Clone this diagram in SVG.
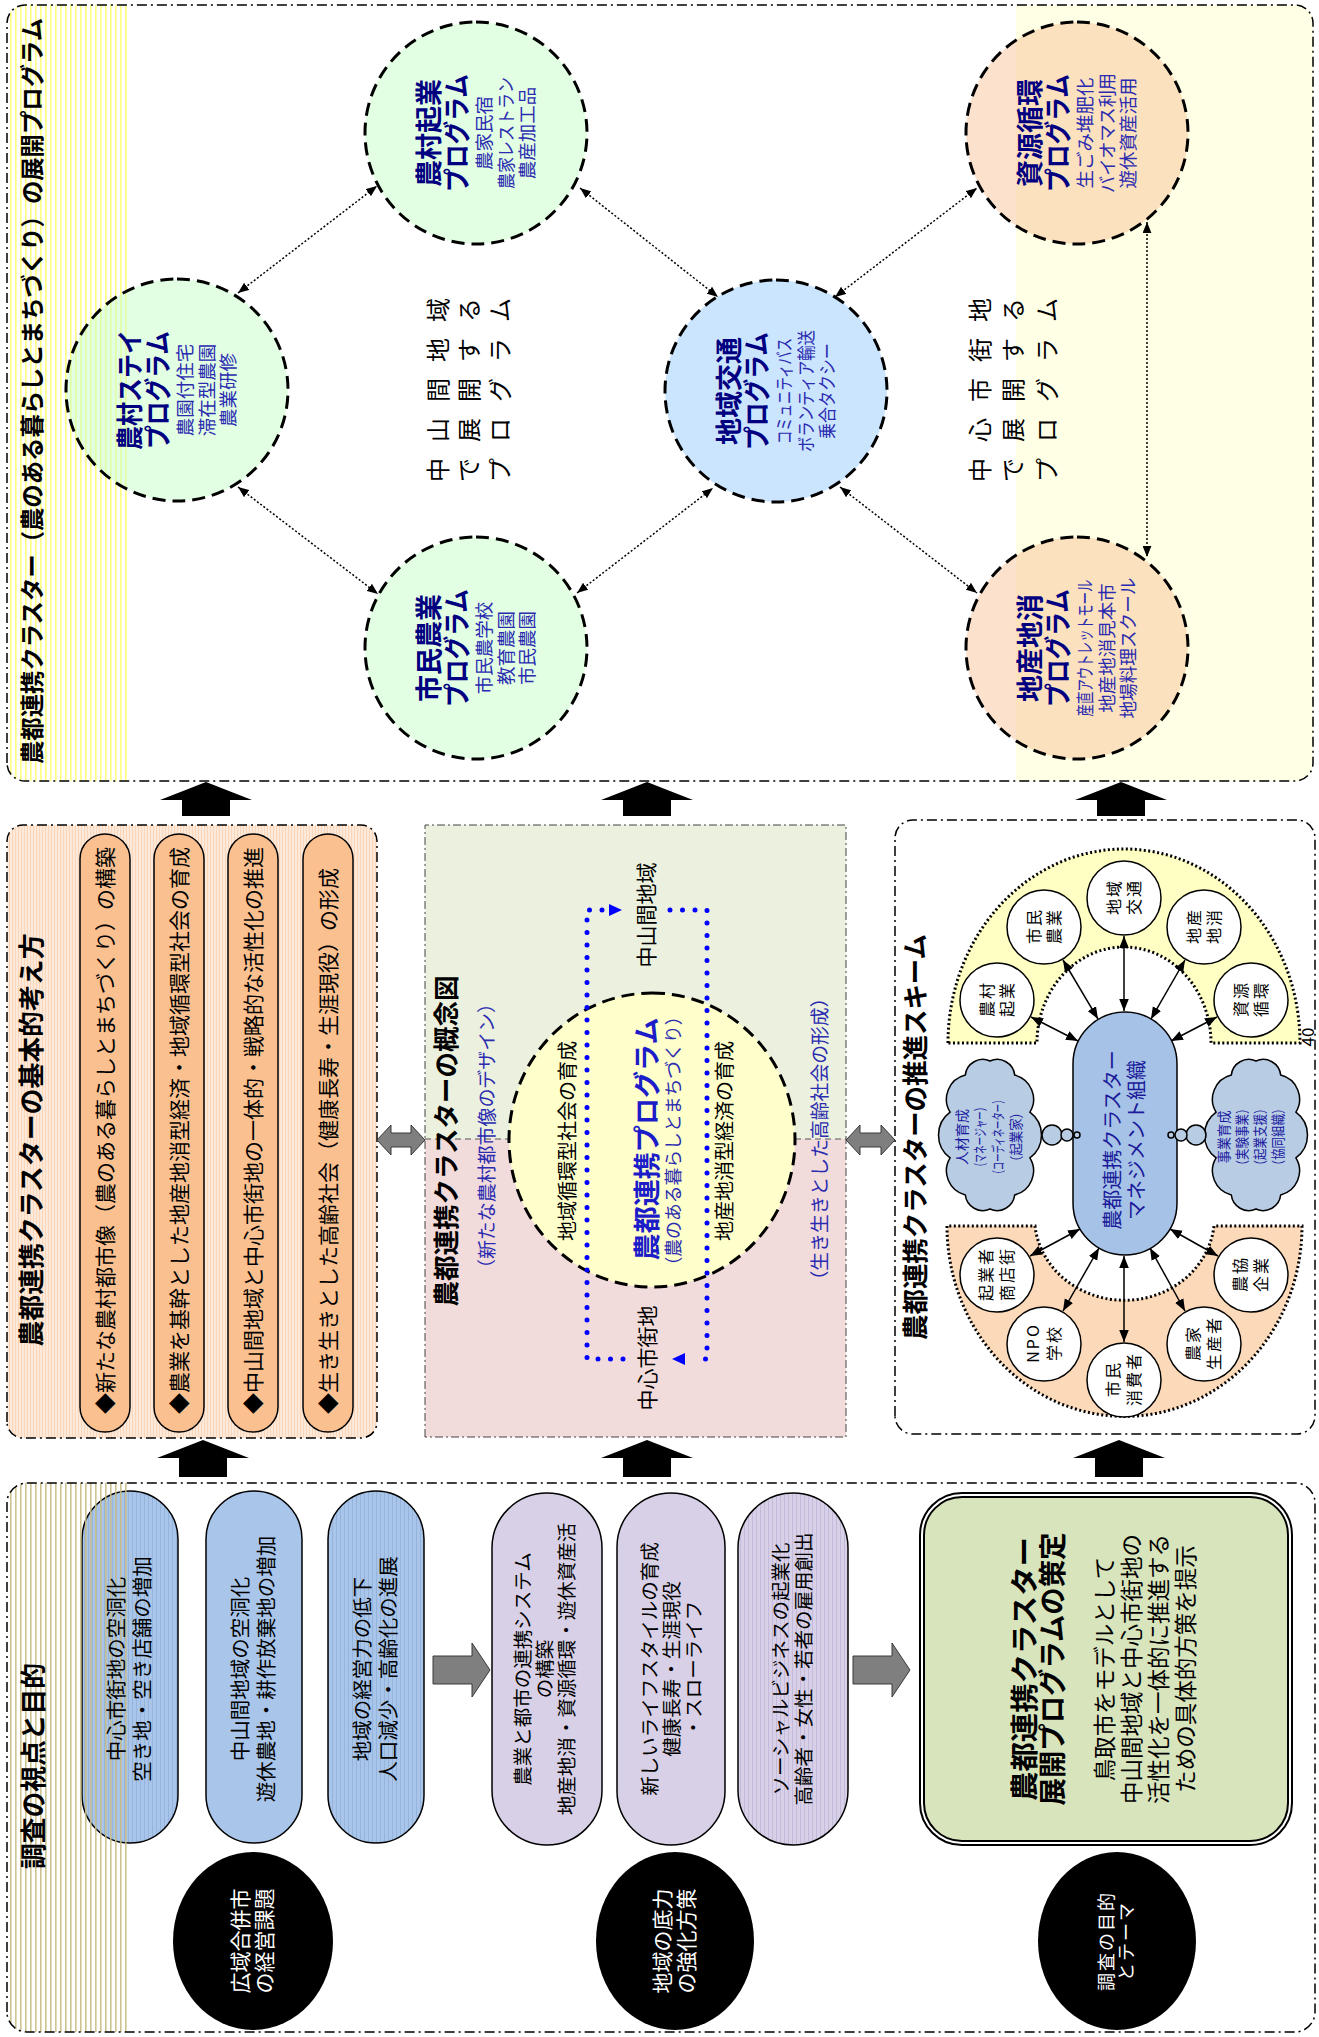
<svg xmlns="http://www.w3.org/2000/svg" width="1319" height="2037" viewBox="0 0 1319 2037">
<defs>
<style>
text{font-family:"Noto Sans CJK JP","Noto Sans CJK SC",sans-serif;fill:#000}
.m{text-anchor:middle}
.b{font-weight:bold}
.frame{fill:none;stroke:#000;stroke-width:1.5;stroke-dasharray:10 4 2 4}
.prog{stroke:#000;stroke-width:3;stroke-dasharray:13 7}
.green{fill:#c8ffc8;fill-opacity:.5}
.blue{fill:#99ccff;fill-opacity:.5}
.peach{fill:#f8b888;fill-opacity:.42}
.pt{font-size:27px;font-weight:bold;fill:#000080;text-anchor:middle}
.ps{font-size:18.5px;fill:#2b2bb0;text-anchor:middle}
.rowt{font-size:24px;text-anchor:middle}
.link{fill:none;stroke:#000;stroke-width:1.5;stroke-dasharray:2 2;marker-start:url(#ah);marker-end:url(#ah)}
.blk{fill:#000}
.gry{fill:#7f7f7f;stroke:#3a3a3a;stroke-width:1}
.pillo{fill:#fac090;stroke:#000;stroke-width:1.5}
.pt21{font-size:21px}
.sc{fill:#fff;stroke:#000;stroke-width:1.5}
.st{font-size:16px;text-anchor:middle;letter-spacing:2px}
.arr{stroke:#000;stroke-width:1.5;marker-start:url(#ah2);marker-end:url(#ah2)}
.ct{font-size:14px;fill:#1a1aa0;text-anchor:middle}
.dot{fill:none;stroke:#0000ff;stroke-width:5;stroke-dasharray:0 12.5;stroke-linecap:round}
.bt{font-size:19px;fill:#2b2bb0;text-anchor:middle}
.pe{font-size:20.5px;text-anchor:middle}
.pl{font-size:19.5px;text-anchor:middle}
.wt{font-size:21px;fill:#fff;text-anchor:middle}
</style>
<pattern id="pYel" width="10" height="5" patternUnits="userSpaceOnUse"><rect width="10" height="1.6" fill="#ffff80"/></pattern>
<pattern id="pTan" width="10" height="5" patternUnits="userSpaceOnUse"><rect width="10" height="1.6" fill="#c9bd86"/></pattern>
<pattern id="pPeach" width="10" height="3" patternUnits="userSpaceOnUse"><rect width="10" height="3" fill="#fde9d9"/><rect width="10" height="1" fill="#fbd6b9"/></pattern>
<pattern id="pBlue" width="10" height="4" patternUnits="userSpaceOnUse"><rect width="10" height="4" fill="#a9c5e9"/><rect width="10" height="1" fill="#94b4dc"/></pattern>
<pattern id="pLav" width="10" height="4" patternUnits="userSpaceOnUse"><rect width="10" height="4" fill="#d8d0e6"/><rect width="10" height="1" fill="#c4badb"/></pattern>
<marker id="ah" viewBox="0 0 10 8" refX="10" refY="4" markerWidth="11" markerHeight="9" markerUnits="userSpaceOnUse" orient="auto-start-reverse"><path d="M0,0 L10,4 L0,8 Z" fill="#000"/></marker>
<marker id="ah2" viewBox="0 0 10 8" refX="10" refY="4" markerWidth="12" markerHeight="10" markerUnits="userSpaceOnUse" orient="auto-start-reverse"><path d="M0,0 L10,4 L0,8 Z" fill="#000"/></marker>
<clipPath id="clipA"><rect x="1256" y="7" width="776" height="1306" rx="18"/></clipPath>
<clipPath id="clipE"><rect x="5" y="7" width="549" height="1308" rx="20"/></clipPath>
<path id="cloud" fill="#b8cce4" stroke="#000" stroke-width="1.5" d="M74 0 A17.6 17.6 0 0 1 59.9 24.7 A24.8 24.8 0 0 1 22.9 39.9 A28.4 28.4 0 0 1 -22.9 39.9 A24.8 24.8 0 0 1 -59.9 24.7 A17.6 17.6 0 0 1 -74 0 A17.6 17.6 0 0 1 -59.9 -24.7 A24.8 24.8 0 0 1 -22.9 -39.9 A28.4 28.4 0 0 1 22.9 -39.9 A24.8 24.8 0 0 1 59.9 -24.7 A17.6 17.6 0 0 1 74 0 Z"/>
</defs>

<rect width="1319" height="2037" fill="#fff"/>

<!-- whole sheet is laid out landscape and turned a quarter turn -->
<g transform="translate(0 2037) rotate(-90)">

<!-- ===== Development programmes ===== -->
<g id="panel-programs">
  <g clip-path="url(#clipA)">
    <rect x="1256" y="7" width="776" height="1306" fill="#fff"/>
    <rect x="1256" y="7" width="776" height="123" fill="url(#pYel)"/>
    <rect x="1256" y="1016" width="776" height="297" fill="#ffffe6"/>
  </g>
  <rect class="frame" x="1256" y="7" width="776" height="1306" rx="18"/>
  <text class="b" x="1273" y="41" font-size="24" textLength="746" lengthAdjust="spacingAndGlyphs">農都連携クラスター（農のある暮らしとまちづくり）の展開プログラム</text>

  <g id="area-rural">
    <text class="rowt" x="1567 1607 1647 1687 1727" y="447">中山間地域</text>
    <text class="rowt" x="1567 1607 1647 1687 1727" y="478">で展開する</text>
    <text class="rowt" x="1567 1607 1647 1687 1727" y="509">プログラム</text>
  </g>
  <g id="area-center">
    <text class="rowt" x="1567 1607 1647 1687 1727" y="989">中心市街地</text>
    <text class="rowt" x="1567 1607 1647 1687 1727" y="1022">で展開する</text>
    <text class="rowt" x="1567 1607 1647 1687 1727" y="1056">プログラム</text>
  </g>
</g>

<g id="program-links">
  <path class="link" d="M1744 238 L1851 377"/>
  <path class="link" d="M1550 238 L1443 378"/>
  <path class="link" d="M1849 580 L1740 718"/>
  <path class="link" d="M1444 577 L1549 713"/>
  <path class="link" d="M1740 835 L1849 977"/>
  <path class="link" d="M1550 840 L1444 977"/>
  <path class="link" d="M1815 1147 L1480 1147"/>
</g>

<g id="prog-stay">
  <circle class="prog green" cx="1647" cy="177" r="111"/>
  <text class="pt" x="1647" y="139.5" textLength="120" lengthAdjust="spacingAndGlyphs">農村ステイ</text>
  <text class="pt" x="1647" y="167.5" textLength="118" lengthAdjust="spacingAndGlyphs">プログラム</text>
  <text class="ps" x="1647" y="191.5">農園付住宅</text>
  <text class="ps" x="1647" y="213.5">滞在型農園</text>
  <text class="ps" x="1647" y="234.5">農業研修</text>
</g>
<g id="prog-venture">
  <circle class="prog green" cx="1904" cy="476" r="111"/>
  <text class="pt" x="1904" y="438.5">農村起業</text>
  <text class="pt" x="1904" y="466.5" textLength="118" lengthAdjust="spacingAndGlyphs">プログラム</text>
  <text class="ps" x="1904" y="490.5">農家民宿</text>
  <text class="ps" x="1904" y="512.5" textLength="112" lengthAdjust="spacingAndGlyphs">農家レストラン</text>
  <text class="ps" x="1904" y="533.5">農産加工品</text>
</g>
<g id="prog-citizen">
  <circle class="prog green" cx="1389" cy="476" r="111"/>
  <text class="pt" x="1389" y="438.5">市民農業</text>
  <text class="pt" x="1389" y="466.5" textLength="118" lengthAdjust="spacingAndGlyphs">プログラム</text>
  <text class="ps" x="1389" y="490.5">市民農学校</text>
  <text class="ps" x="1389" y="512.5">教育農園</text>
  <text class="ps" x="1389" y="533.5">市民農園</text>
</g>
<g id="prog-transport">
  <circle class="prog blue" cx="1646" cy="776" r="111"/>
  <text class="pt" x="1646" y="738.5">地域交通</text>
  <text class="pt" x="1646" y="766.5" textLength="118" lengthAdjust="spacingAndGlyphs">プログラム</text>
  <text class="ps" x="1646" y="790.5" textLength="106" lengthAdjust="spacingAndGlyphs">コミュニティバス</text>
  <text class="ps" x="1646" y="812.5" textLength="122" lengthAdjust="spacingAndGlyphs">ボランティア輸送</text>
  <text class="ps" x="1646" y="833.5" textLength="96" lengthAdjust="spacingAndGlyphs">乗合タクシー</text>
</g>
<g id="prog-resource">
  <circle class="prog peach" cx="1904" cy="1077" r="111"/>
  <text class="pt" x="1904" y="1039.5">資源循環</text>
  <text class="pt" x="1904" y="1067.5" textLength="118" lengthAdjust="spacingAndGlyphs">プログラム</text>
  <text class="ps" x="1904" y="1091.5">生ごみ堆肥化</text>
  <text class="ps" x="1904" y="1113.5" textLength="120" lengthAdjust="spacingAndGlyphs">バイオマス利用</text>
  <text class="ps" x="1904" y="1134.5">遊休資産活用</text>
</g>
<g id="prog-local">
  <circle class="prog peach" cx="1389" cy="1077" r="111"/>
  <text class="pt" x="1389" y="1039.5">地産地消</text>
  <text class="pt" x="1389" y="1067.5" textLength="118" lengthAdjust="spacingAndGlyphs">プログラム</text>
  <text class="ps" x="1389" y="1091.5" textLength="137" lengthAdjust="spacingAndGlyphs">産直アウトレットモール</text>
  <text class="ps" x="1389" y="1113.5">地産地消見本市</text>
  <text class="ps" x="1389" y="1134.5" textLength="141" lengthAdjust="spacingAndGlyphs">地場料理スクール</text>
</g>

<!-- ===== Basic concept ===== -->
<g id="panel-concept">
  <rect x="599" y="7" width="613" height="370" rx="16" fill="url(#pPeach)"/>
  <rect class="frame" x="599" y="7" width="613" height="370" rx="16"/>
  <text class="b m" x="897" y="41" font-size="26" textLength="413" lengthAdjust="spacingAndGlyphs">農都連携クラスターの基本的考え方</text>
  <rect class="pillo" x="605" y="80" width="598" height="50" rx="25"/>
  <rect class="pillo" x="605" y="154" width="598" height="50" rx="25"/>
  <rect class="pillo" x="605" y="228" width="598" height="50" rx="25"/>
  <rect class="pillo" x="605" y="303" width="598" height="50" rx="25"/>
  <text class="pt21" x="623" y="112.5">◆新たな農村都市像（農のある暮らしとまちづくり）の構築</text>
  <text class="pt21" x="623" y="186.5">◆農業を基幹とした地産地消型経済・地域循環型社会の育成</text>
  <text class="pt21" x="623" y="260.5">◆中山間地域と中心市街地の一体的・戦略的な活性化の推進</text>
  <text class="pt21" x="623" y="335.5">◆生き生きとした高齢社会（健康長寿・生涯現役）の形成</text>
</g>

<!-- ===== Concept map ===== -->
<g id="panel-map">
  <rect x="898" y="425" width="314" height="421" fill="#ebf1de"/>
  <rect x="600" y="425" width="298" height="421" fill="#f2dcdb"/>
  <line x1="898" y1="425" x2="898" y2="846" stroke="#555" stroke-width="1" stroke-dasharray="6 4"/>
  <rect x="600" y="425" width="612" height="421" fill="none" stroke="#444" stroke-width="1" stroke-dasharray="8 3 2 3"/>
  <text class="b m" x="896" y="456" font-size="26" textLength="331" lengthAdjust="spacingAndGlyphs">農都連携クラスターの概念図</text>
  <text class="bt" x="901" y="494" textLength="284" lengthAdjust="spacingAndGlyphs">（新たな農村都市像のデザイン）</text>
  <text class="bt" x="898" y="827" textLength="301" lengthAdjust="spacingAndGlyphs">（生き生きとした高齢社会の形成）</text>
  <ellipse cx="897" cy="652" rx="147" ry="143" fill="#ffffcc" stroke="#000" stroke-width="3" stroke-dasharray="13 7"/>
  <text class="m" x="896" y="575" font-size="20">地域循環型社会の育成</text>
  <text class="m" x="896" y="732" font-size="20">地産地消型経済の育成</text>
  <text class="b m" x="898" y="657" font-size="27" style="fill:#1c1cc8" textLength="243" lengthAdjust="spacingAndGlyphs">農都連携プログラム</text>
  <text class="m" x="896" y="680" font-size="18" style="fill:#2b2bb0" textLength="267" lengthAdjust="spacingAndGlyphs">（農のある暮らしとまちづくり）</text>
  <text class="m" x="1122" y="654" font-size="21">中山間地域</text>
  <text class="m" x="679" y="655" font-size="21">中心市街地</text>
  <g id="map-loop">
    <path class="dot" d="M678 623 L678 587 L1127 587 L1127 606"/>
    <path class="dot" d="M1127 670 L1127 707 L678 707 L678 695"/>
    <polygon points="1127,622 1121,609 1133,609" fill="#0000ff"/>
    <polygon points="678,672 672,685 684,685" fill="#0000ff"/>
  </g>
</g>

<!-- ===== Promotion scheme ===== -->
<g id="panel-scheme">
  <rect x="603" y="895" width="614" height="420" rx="18" fill="#fff"/>
  <rect class="frame" x="603" y="895" width="614" height="420" rx="18"/>
  <text class="b m" x="900" y="925" font-size="26" textLength="406" lengthAdjust="spacingAndGlyphs">農都連携クラスターの推進スキーム</text>
  <path d="M994 948 A194 176 0 0 1 994 1300 L994 1211 A96 87 0 0 0 994 1037 Z" fill="#ffffc4" stroke="#000" stroke-width="3" stroke-dasharray="2 2.5"/>
  <path d="M811 947 A190 177 0 0 0 811 1302 L811 1214 A83 90 0 0 1 811 1035 Z" fill="#fcd9b8" stroke="#000" stroke-width="3" stroke-dasharray="2 2.5"/>
  <use href="#cloud" x="902" y="990"/>
  <use href="#cloud" x="902" y="1256"/>
  <g id="scheme-links">
    <line class="arr" x1="1020" y1="1031" x2="996" y2="1078"/>
    <line class="arr" x1="1077" y1="1063" x2="1018" y2="1098"/>
    <line class="arr" x1="1101" y1="1124" x2="1026" y2="1124"/>
    <line class="arr" x1="1077" y1="1185" x2="1018" y2="1151"/>
    <line class="arr" x1="1020" y1="1217" x2="996" y2="1171"/>
    <line class="arr" x1="781" y1="1030" x2="808" y2="1080"/>
    <line class="arr" x1="726" y1="1063" x2="789" y2="1099"/>
    <line class="arr" x1="695" y1="1124" x2="781" y2="1124"/>
    <line class="arr" x1="726" y1="1185" x2="789" y2="1150"/>
    <line class="arr" x1="781" y1="1218" x2="808" y2="1170"/>
  </g>
  <g id="scheme-core">
    <rect x="782" y="1073" width="243" height="104" rx="52" fill="#a6c2e6" stroke="#000" stroke-width="1.5"/>
    <text class="m" x="897" y="1120" font-size="20" style="fill:#1a1a9a">農都連携クラスター</text>
    <text class="m" x="897" y="1144" font-size="20" style="fill:#1a1a9a">マネジメント組織</text>
  </g>
  <g id="scheme-bubbles" fill="#b8cce4" stroke="#000" stroke-width="1.5">
    <circle cx="902" cy="1052" r="10"/>
    <circle cx="902" cy="1067" r="6"/>
    <circle cx="902" cy="1077" r="3"/>
    <circle cx="902" cy="1196" r="10"/>
    <circle cx="902" cy="1181" r="6"/>
    <circle cx="902" cy="1171" r="3"/>
  </g>
  <g id="cloud-people">
    <text class="ct" x="900" y="967" textLength="56" lengthAdjust="spacingAndGlyphs">人材育成</text>
    <text class="ct" x="900" y="985" textLength="69" lengthAdjust="spacingAndGlyphs">（マネージャー）</text>
    <text class="ct" x="900" y="1003" textLength="83" lengthAdjust="spacingAndGlyphs">（コーディネーター）</text>
    <text class="ct" x="900" y="1021" textLength="62" lengthAdjust="spacingAndGlyphs">（起業家）</text>
  </g>
  <g id="cloud-business">
    <text class="ct" x="900" y="1229" textLength="53" lengthAdjust="spacingAndGlyphs">事業育成</text>
    <text class="ct" x="900" y="1247" textLength="69" lengthAdjust="spacingAndGlyphs">（実験事業）</text>
    <text class="ct" x="900" y="1265" textLength="69" lengthAdjust="spacingAndGlyphs">（起業支援）</text>
    <text class="ct" x="900" y="1283" textLength="69" lengthAdjust="spacingAndGlyphs">（協同組織）</text>
  </g>
  <g id="n-venture"><circle class="sc" cx="1037" cy="997" r="37"/><text class="st" x="1038" y="993">農村</text><text class="st" x="1038" y="1013">起業</text></g>
  <g id="n-citizen"><circle class="sc" cx="1110" cy="1044" r="37"/><text class="st" x="1111" y="1040">市民</text><text class="st" x="1111" y="1060">農業</text></g>
  <g id="n-transport"><circle class="sc" cx="1139" cy="1124" r="37"/><text class="st" x="1140" y="1120">地域</text><text class="st" x="1140" y="1140">交通</text></g>
  <g id="n-local"><circle class="sc" cx="1110" cy="1204" r="37"/><text class="st" x="1111" y="1200">地産</text><text class="st" x="1111" y="1220">地消</text></g>
  <g id="n-resource"><circle class="sc" cx="1037" cy="1251" r="37"/><text class="st" x="1038" y="1247">資源</text><text class="st" x="1038" y="1267">循環</text></g>
  <g id="n-shop"><circle class="sc" cx="762" cy="997" r="37"/><text class="st" x="763" y="992">起業者</text><text class="st" x="763" y="1013">商店街</text></g>
  <g id="n-npo"><circle class="sc" cx="693" cy="1044" r="37"/><text class="st" x="694" y="1039">NPO</text><text class="st" x="694" y="1060">学校</text></g>
  <g id="n-consumer"><circle class="sc" cx="657" cy="1124" r="37"/><text class="st" x="658" y="1119">市民</text><text class="st" x="658" y="1140">消費者</text></g>
  <g id="n-farmer"><circle class="sc" cx="693" cy="1204" r="37"/><text class="st" x="694" y="1199">農家</text><text class="st" x="694" y="1220">生産者</text></g>
  <g id="n-coop"><circle class="sc" cx="762" cy="1251" r="37"/><text class="st" x="763" y="1246">農協</text><text class="st" x="763" y="1267">企業</text></g>
  <text class="m" x="1000" y="1314" font-size="17">40</text>
</g>

<!-- ===== Viewpoint and aims ===== -->
<g id="panel-aims">
  <rect x="5" y="7" width="549" height="1308" rx="20" fill="#fff"/>
  <g id="issues">
    <rect x="194" y="82" width="352" height="96" rx="48" fill="url(#pBlue)" stroke="#000" stroke-width="1.5"/>
    <rect x="194" y="206" width="352" height="96" rx="48" fill="#a9c5e9" stroke="#000" stroke-width="1.5"/>
    <rect x="194" y="328" width="352" height="96" rx="48" fill="url(#pBlue)" stroke="#000" stroke-width="1.5"/>
  </g>
  <rect x="5" y="7" width="549" height="123" fill="url(#pTan)" clip-path="url(#clipE)" opacity="0.9"/>
  <rect class="frame" x="5" y="7" width="549" height="1308" rx="20"/>
  <text class="b m" x="271" y="43" font-size="26" textLength="206" lengthAdjust="spacingAndGlyphs">調査の視点と目的</text>
  <text class="pe" x="368" y="124">中心市街地の空洞化</text>
  <text class="pe" x="368" y="150">空き地・空き店舗の増加</text>
  <text class="pe" x="368" y="248">中山間地域の空洞化</text>
  <text class="pe" x="368" y="274">遊休農地・耕作放棄地の増加</text>
  <text class="pe" x="368" y="370">地域の経営力の低下</text>
  <text class="pe" x="368" y="396">人口減少・高齢化の進展</text>

  <g id="c-issue"><ellipse cx="96" cy="253" rx="89" ry="80" fill="#000"/>
    <text class="wt" x="96" y="248">広域合併市</text><text class="wt" x="96" y="272">の経営課題</text></g>

  <polygon class="gry" points="353,433 353,472 340,472 367,490 394,472 381,472 381,433"/>

  <g id="measures">
    <rect x="192" y="492" width="352" height="110" rx="55" fill="#d8d0e6" stroke="#000" stroke-width="1.5"/>
    <rect x="192" y="617" width="352" height="108" rx="54" fill="#d8d0e6" stroke="#000" stroke-width="1.5"/>
    <rect x="192" y="738" width="352" height="110" rx="55" fill="url(#pLav)" stroke="#000" stroke-width="1.5"/>
    <text class="pl" x="368" y="530">農業と都市の連携システム</text>
    <text class="pl" x="368" y="552">の構築</text>
    <text class="pl" x="368" y="574">地産地消・資源循環・遊休資産活</text>
    <text class="pl" x="368" y="657">新しいライフスタイルの育成</text>
    <text class="pl" x="368" y="679">健康長寿・生涯現役</text>
    <text class="pl" x="368" y="701">・スローライフ</text>
    <text class="pl" x="368" y="788">ソーシャルビジネスの起業化</text>
    <text class="pl" x="368" y="811">高齢者・女性・若者の雇用創出</text>
  </g>
  <g id="c-measure"><ellipse cx="96" cy="675" rx="89" ry="79" fill="#000"/>
    <text class="wt" x="96" y="670">地域の底力</text><text class="wt" x="96" y="694">の強化方策</text></g>

  <polygon class="gry" points="353,853 353,892 340,892 367,910 394,892 381,892 381,853"/>

  <g id="theme">
    <rect x="194" y="922" width="348" height="368" rx="40" fill="#d8e4bc" stroke="#000" stroke-width="6"/>
    <rect x="194" y="922" width="348" height="368" rx="40" fill="none" stroke="#fff" stroke-width="2"/>
    <text class="b m" x="368" y="1035" font-size="28" textLength="264" lengthAdjust="spacingAndGlyphs">農都連携クラスター</text>
    <text class="b m" x="368" y="1063" font-size="28" textLength="273" lengthAdjust="spacingAndGlyphs">展開プログラムの策定</text>
    <text class="m" x="368" y="1113" font-size="22.5">鳥取市をモデルとして</text>
    <text class="m" x="368" y="1140" font-size="22.5">中山間地域と中心市街地の</text>
    <text class="m" x="368" y="1167" font-size="22.5">活性化を一体的に推進する</text>
    <text class="m" x="368" y="1194" font-size="22.5">ための具体的方策を提示</text>
  </g>
  <g id="c-theme"><ellipse cx="96" cy="1117" rx="89" ry="79" fill="#000"/>
    <text class="m" x="96" y="1113" font-size="18" letter-spacing="2" style="fill:#fff">調査の目的</text>
    <text class="m" x="96" y="1133" font-size="18" letter-spacing="2" style="fill:#fff">とテーマ</text></g>
</g>

<!-- ===== Flow arrows between panels ===== -->
<g id="connectors">
  <polygon class="blk" points="1255,206 1237,252 1237,230 1221,230 1221,182 1237,182 1237,160"/>
  <polygon class="blk" points="1255,647 1237,693 1237,671 1221,671 1221,623 1237,623 1237,601"/>
  <polygon class="blk" points="1255,1121 1237,1167 1237,1145 1221,1145 1221,1097 1237,1097 1237,1075"/>
  <polygon class="blk" points="597,203 579,249 579,227 560,227 560,179 579,179 579,157"/>
  <polygon class="blk" points="597,647 579,693 579,671 560,671 560,623 579,623 579,601"/>
  <polygon class="blk" points="597,1119 579,1165 579,1143 560,1143 560,1095 579,1095 579,1073"/>
  <polygon class="gry" points="897,377 912,391 904,391 904,411 912,411 897,425 882,411 890,411 890,391 882,391"/>
  <polygon class="gry" points="897,846 912,860 904,860 904,881 912,881 897,895 882,881 890,881 890,860 882,860"/>
</g>

</g>
</svg>
